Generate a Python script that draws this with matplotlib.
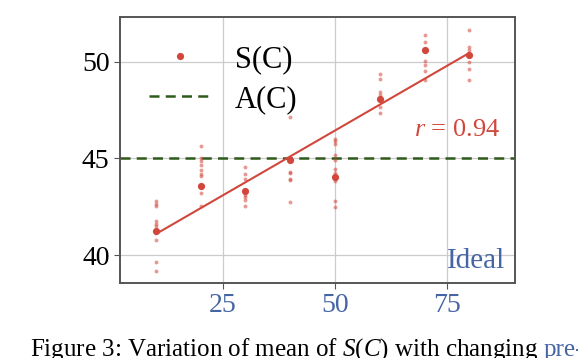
import numpy as np
import matplotlib
matplotlib.use("Agg")
from matplotlib import pyplot as plt

plt.rcParams['font.family'] = ['Liberation Serif', 'DejaVu Serif']
plt.rcParams['mathtext.fontset'] = 'custom'
plt.rcParams['mathtext.rm'] = 'Liberation Serif'
plt.rcParams['mathtext.it'] = 'Liberation Serif:italic'

# values
xVals = [10, 20, 30, 40, 50, 60, 70, 80]
meanVals = [41.26, 43.55, 43.33, 44.94, 44.04, 48.10, 50.62, 50.38]
runs10 = [42.78, 42.66, 42.52, 41.74, 41.61, 41.48, 40.79, 39.64, 39.17]
runs20 = [45.63, 44.89, 44.64, 44.38, 44.20, 44.07, 43.21, 42.52, 45.0]
runs30 = [44.56, 44.21, 43.94, 43.12, 42.98, 42.85, 42.52]
runs40 = [47.15, 44.30, 44.25, 43.94, 43.87, 42.75]
runs50 = [46.03, 45.89, 45.75, 45.16, 44.94, 44.46, 44.25, 43.85, 42.81, 42.49]
runs60 = [49.38, 49.12, 48.42, 48.29, 47.67, 47.36]
runs70 = [51.40, 51.04, 50.59, 50.07, 49.82, 49.51, 49.08]
runs80 = [51.67, 50.76, 50.60, 49.98, 49.64, 49.08]
allRuns = [runs10, runs20, runs30, runs40, runs50, runs60, runs70, runs80]
aValue = 45.0
rValue = 0.94

red = '#d1473c'
green = '#2f5a1c'
blue = '#4565a4'

fig = plt.figure(figsize=(5.78, 3.58), dpi=100)
ax = fig.add_axes([0.2076, 0.2095, 0.6834, 0.743])

for xv, runs in zip(xVals, allRuns):
    ax.plot([xv] * len(runs), runs, 'o', color=red, alpha=0.55, markersize=2.8,
            markeredgewidth=0, zorder=3)

ax.plot(xVals, meanVals, 'o', color=red, markersize=5.2, markeredgewidth=0,
        zorder=4, label='S(C)')
ax.axhline(aValue, color=green, linestyle='--', linewidth=1.8, dashes=(4, 2.5),
           zorder=2, label='A(C)')

slope, icpt = np.polyfit(xVals, meanVals, 1)
xFit = np.array([xVals[0], xVals[-1]])
ax.plot(xFit, slope * xFit + icpt, '-', color=red, linewidth=1.5, zorder=3)

ax.set_xlim(2, 90.2)
ax.set_ylim(38.55, 52.33)
ax.set_xticks([25, 50, 75])
ax.set_yticks([40, 45, 50])
ax.grid(True, color='#cccccc', linewidth=0.9, zorder=0)
ax.set_axisbelow(True)
ax.tick_params(axis='both', labelsize=20, length=4, width=0.8, color='#555555')
ax.tick_params(axis='x', labelcolor=blue)
for sp in ax.spines.values():
    sp.set_color('#555555')
    sp.set_linewidth(1.4)

ax.text(0.962, 0.553, r'$r$ = %.2f' % rValue, transform=ax.transAxes, ha='right',
        va='baseline', fontsize=19, color=red)
ax.text(0.975, 0.035, 'Ideal', transform=ax.transAxes, ha='right',
        va='bottom', fontsize=21, color=blue)

ax.legend(loc='upper left', bbox_to_anchor=(0.02, 0.975), frameon=False,
          fontsize=22, numpoints=1, handlelength=2.0, handletextpad=0.8,
          labelspacing=0.35, borderaxespad=0.3)

# caption sits at the bottom edge, partly cut off as in the source page
cap = fig.text(0.052, 0.006, r'Figure 3: Variation of mean of $S(C)$ with changing',
               fontsize=18, va='baseline', ha='left')
fig.canvas.draw()
bb = cap.get_window_extent()
fig.text((bb.x1 + 5) / fig.bbox.width, 0.006, 'pre-', fontsize=18, va='baseline',
         ha='left', color=blue)

fig.savefig('out.png', dpi=100)
